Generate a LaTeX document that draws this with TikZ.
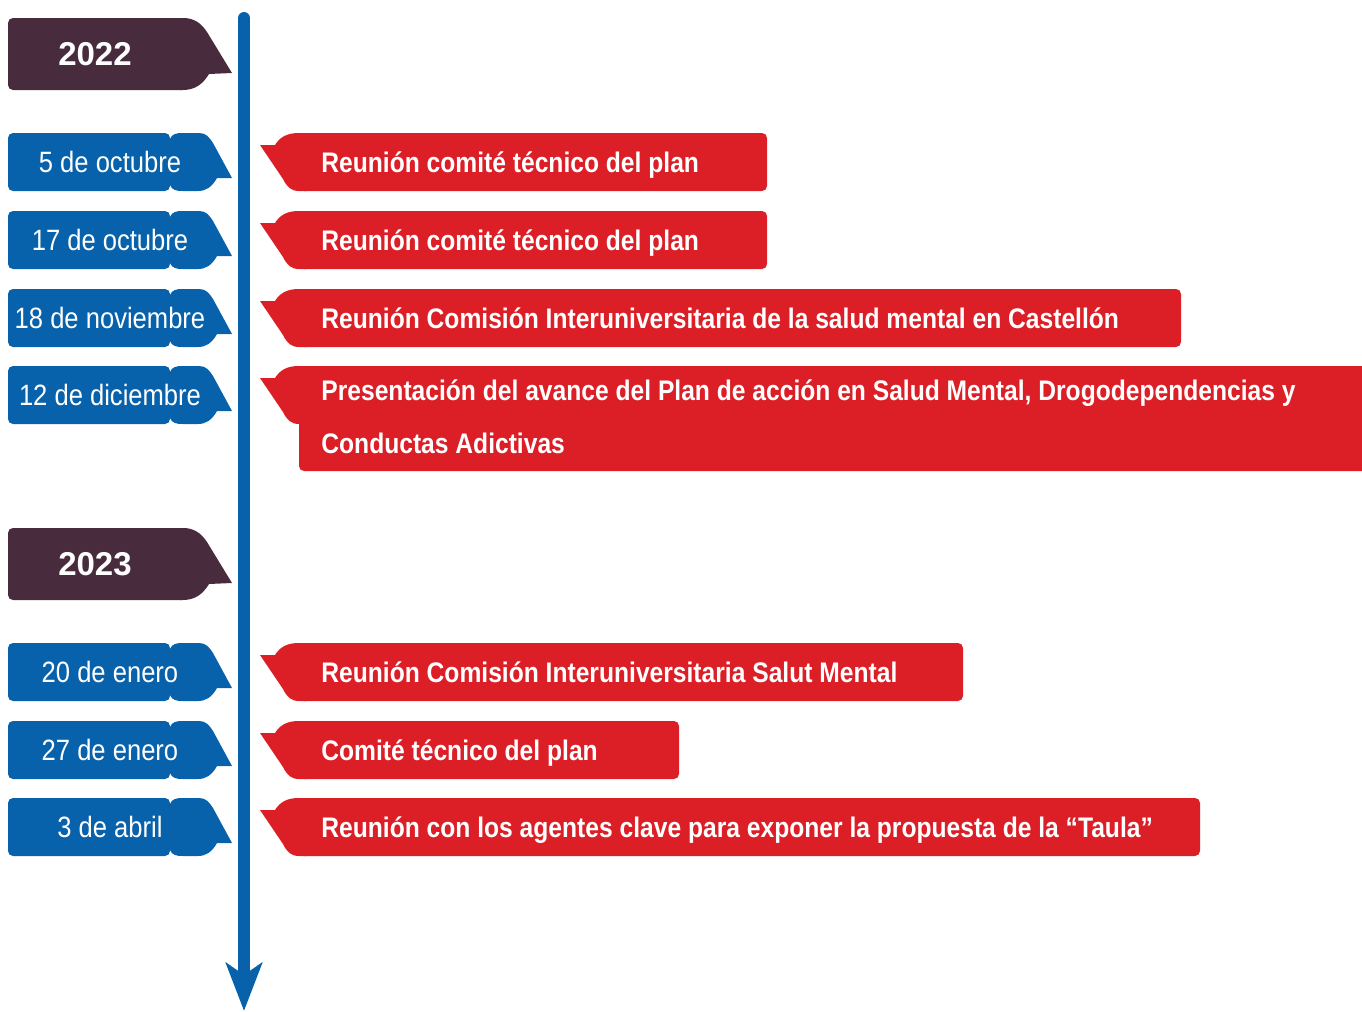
\documentclass[tikz,border=0pt]{standalone}
\usepackage{fontspec}
\setmainfont{Liberation Sans}[FakeStretch=0.87]
\newfontfamily\yearfont{Liberation Sans}
\usepackage{tikz}
\usetikzlibrary{arrows.meta}
\definecolor{tagblue}{HTML}{0762AB}
\definecolor{eventred}{HTML}{DC1F26}
\definecolor{yearplum}{HTML}{482C3E}
\tikzset{
  every picture/.style={
    line join=round,
    >=Stealth,
  },
  yearfill/.style={fill=yearplum},
  datefill/.style={fill=tagblue},
  eventfill/.style={fill=eventred},
  yearlabel/.style={text=white, anchor=base, inner sep=0pt,
    font=\yearfont\bfseries\fontsize{16.5}{19}\selectfont},
  datelabel/.style={text=white, anchor=base, inner sep=0pt,
    font=\fontsize{14.7}{17}\selectfont},
  eventlabel/.style={text=white, anchor=base west, inner sep=0pt, align=left,
    font=\bfseries\fontsize{14.15}{26.5}\selectfont},
  axisline/.style={draw=tagblue, line width=6pt, line cap=round,
    -{Stealth[length=24pt, width=18pt, inset=6pt]}},
}
% tag shapes, coordinates in pixels of the page (y grows downwards)
\newcommand\yeartag[3]{%
  \fill[yearfill, rounded corners=2.5pt] (8,#2) rectangle (186,#2+72);
  \fill[yearfill] (180,#2) -- (183,#2) .. controls (194,#2) and (201,#2+5) .. (207,#2+14)
    -- (232,#2+55) -- (209,#2+56) .. controls (203,#2+66) and (195,#2+72) .. (183,#2+72)
    -- (180,#2+72) -- cycle;
  \node[yearlabel] (#1) at (95,#2+47.5) {#3};
}
\newcommand\datetag[3]{%
  \fill[datefill, rounded corners=2.5pt] (8,#2-29) rectangle (170,#2+29);
  \fill[datefill] (166,#2-20) -- (170,#2-23) .. controls (172,#2-28) and (176,#2-29) .. (183,#2-29)
    -- (199,#2-29) .. controls (206,#2-29) and (209,#2-25) .. (213,#2-19)
    -- (232,#2+16) -- (217,#2+16) .. controls (212,#2+25) and (206,#2+29) .. (198,#2+29)
    -- (183,#2+29) .. controls (176,#2+29) and (172,#2+28) .. (170,#2+23) -- (166,#2+20) -- cycle;
  \node[datelabel] (#1) at (110,#2+10.5) {#3};
}
\newcommand\eventbar[4]{%
  \fill[eventfill, rounded corners=2.5pt] (299,#2) rectangle (#3,#4);
  \fill[eventfill] (260,#2+12) -- (275,#2+12) .. controls (280,#2+4) and (287,#2) .. (299,#2)
    -- (306,#2) -- (306,#2+58) -- (299,#2+58) .. controls (291,#2+58) and (287,#2+54) .. (283,#2+46)
    -- cycle;
}

\begin{document}
\begin{tikzpicture}[x=0.5pt, y=-0.5pt]
\useasboundingbox (0,0) rectangle (1362,1012);

\coordinate (axistop) at (244,18);
\coordinate (axisend) at (244,1011);
\draw[axisline] (axistop) -- (axisend);

\yeartag{y2022}{18}{2022}
\yeartag{y2023}{528}{2023}

\datetag{oct5}{162}{5 de octubre}
\datetag{oct17}{240}{17 de octubre}
\datetag{nov18}{318}{18 de noviembre}
\datetag{dic12}{395}{12 de diciembre}
\datetag{ene20}{672}{20 de enero}
\datetag{ene27}{750}{27 de enero}
\datetag{abr3}{827}{3 de abril}

\eventbar{e1}{133}{767}{191}
\eventbar{e2}{211}{767}{269}
\eventbar{e3}{289}{1181}{347}
\eventbar{e4}{366}{1372}{471}
\eventbar{e5}{643}{963}{701}
\eventbar{e6}{721}{679}{779}
\eventbar{e7}{798}{1200}{856}

\node[eventlabel] (t1) at (321,172) {Reunión comité técnico del plan};
\node[eventlabel] (t2) at (321,250) {Reunión comité técnico del plan};
\node[eventlabel] (t3) at (321,328) {Reunión Comisión Interuniversitaria de la salud mental en Castellón};
\node[eventlabel] (t4) at (321,453) {Presentación del avance del Plan de acción en Salud Mental, Drogodependencias y\\Conductas Adictivas};
\node[eventlabel] (t5) at (321,682) {Reunión Comisión Interuniversitaria Salut Mental};
\node[eventlabel] (t6) at (321,760) {Comité técnico del plan};
\node[eventlabel] (t7) at (321,837) {Reunión con los agentes clave para exponer la propuesta de la “Taula”};
\end{tikzpicture}
\end{document}
